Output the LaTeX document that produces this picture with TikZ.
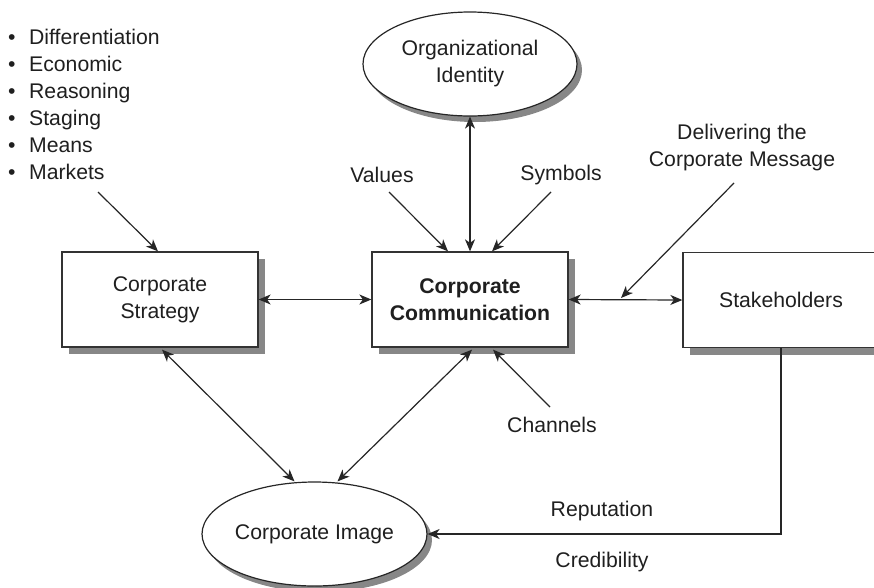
\documentclass[tikz,border=0pt]{standalone}
\usepackage{fontspec}
\setmainfont{Liberation Sans}
\usetikzlibrary{arrows.meta,shadows,shapes.geometric,calc}
\begin{document}
\begin{tikzpicture}[x=1pt,y=-1pt,
  every node/.style={font=\fontsize{21.2}{27}\selectfont, text=black!88},
  shad/.style={drop shadow={shadow xshift=7pt,shadow yshift=-7pt,fill=black!47,opacity=1}},
  shadE/.style={drop shadow={shadow xshift=5pt,shadow yshift=-6pt,fill=black!47,opacity=1}},
  boxn/.style={draw=black!80,line width=1.3pt,fill=white,minimum width=196pt,minimum height=95pt,inner sep=0pt,align=center,shad},
  elln/.style={ellipse,draw=black!85,line width=1.2pt,fill=white,minimum width=214pt,minimum height=104pt,inner sep=0pt,align=center,shadE},
  lbl/.style={inner sep=0pt,align=center},
  tip/.style={-{Stealth[length=12pt,width=10pt,inset=3.5pt]}},
  tips/.style={{Stealth[length=12pt,width=10pt,inset=3.5pt]}-{Stealth[length=12pt,width=10pt,inset=3.5pt]}},
  con/.style={line width=1.2pt,draw=black!85}]
\useasboundingbox (0,0) rectangle (874,587);

% nodes
\node[elln] (oi) at (470,64) {Organizational\\Identity};
\node[boxn] (strat) at (160,299.5) {Corporate\\Strategy};
\node[boxn,font=\fontsize{21.2}{27}\selectfont\bfseries] (comm) at (470,299.5) {Corporate\\Communication};
\node[boxn] (stake) at (781,300) {Stakeholders};
\node[elln,minimum width=215pt] (ci) at (314.5,534) {Corporate Image};

% labels
\node[lbl,anchor=north west,align=left] (list) at (8,28.5)
  {\makebox[21pt][l]{•}Differentiation\\\makebox[21pt][l]{•}Economic\\\makebox[21pt][l]{•}Reasoning\\\makebox[21pt][l]{•}Staging\\\makebox[21pt][l]{•}Means\\\makebox[21pt][l]{•}Markets};
\node[lbl] (values) at (382,175) {Values};
\node[lbl] (symbols) at (561,175) {Symbols};
\node[lbl] (deliv) at (742,148) {Delivering the\\Corporate Message};
\node[lbl] (channels) at (552,425) {Channels};
\node[lbl] (rep) at (602,511) {Reputation};
\node[lbl] (cred) at (602,562) {Credibility};

% free ends
\coordinate (mk) at (98,192);
\coordinate (va) at (389,192);
\coordinate (sy) at (551,192);
\coordinate (de) at (734,183);
\coordinate (ch) at (550,407);

% connectors
\draw[con,tip] (mk) -- ($(strat.north)+(-2,0)$);
\draw[con,tip] (va) -- ($(comm.north)+(-22,0)$);
\draw[con,tip] (sy) -- ($(comm.north)+(22,0)$);
\draw[con,tips] (comm.north) -- (oi.south);
\draw[con,tips] (strat.east) -- (comm.west);
\draw[con,tips] (comm.east) -- (stake.west);
\draw[con,tip] (de) -- (621,298);
\draw[con,tips] ($(strat.south)+(2,2)$) -- ($(ci.north)+(-20,0)$);
\draw[con,tips] ($(comm.south)+(2,2)$) -- ($(ci.north)+(23,0)$);
\draw[con,tip] (ch) -- ($(comm.south)+(23,2)$);
\draw[con,tip] (stake.south) |- (ci.east);
\end{tikzpicture}
\end{document}
